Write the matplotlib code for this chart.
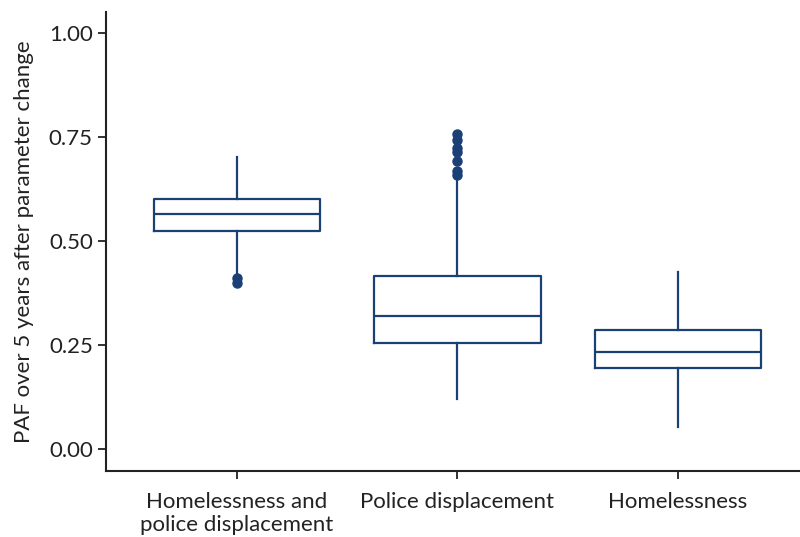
import matplotlib
matplotlib.use('Agg')
from matplotlib import pyplot as plt

plt.rcParams['font.family'] = ['Lato', 'DejaVu Sans']

categories = ['Homelessness and\npolice displacement', 'Police displacement', 'Homelessness']
q1 = [0.524, 0.255, 0.195]
med = [0.565, 0.320, 0.233]
q3 = [0.601, 0.416, 0.286]
whislo = [0.418, 0.120, 0.053]
whishi = [0.702, 0.652, 0.425]
fliers = [
    [0.411, 0.398],
    [0.757, 0.743, 0.724, 0.714, 0.692, 0.667, 0.658],
    [],
]

color = '#1b4075'

stats = []
for i, name in enumerate(categories):
    stats.append(dict(label=name, q1=q1[i], med=med[i], q3=q3[i],
                      whislo=whislo[i], whishi=whishi[i], fliers=fliers[i]))

fig = plt.figure(figsize=(8, 5.37), dpi=100)
ax = fig.add_axes([0.1325, 0.123, 0.8675, 0.855])

ax.bxp(stats, positions=[1, 2, 3], widths=0.755, showcaps=False,
       boxprops=dict(color=color, linewidth=1.6),
       medianprops=dict(color=color, linewidth=1.6),
       whiskerprops=dict(color=color, linewidth=1.6),
       flierprops=dict(marker='o', markerfacecolor=color, markeredgecolor=color,
                       markersize=6.5))

ax.set_xlim(0.405, 3.555)
ax.set_ylim(-0.052, 1.05)
ax.set_yticks([0, 0.25, 0.5, 0.75, 1.0])
ax.set_yticklabels(['0.00', '0.25', '0.50', '0.75', '1.00'])
ax.set_ylabel('PAF over 5 years after parameter change', fontsize=16, color='#222222',
              labelpad=11)
ax.tick_params(labelsize=16, colors='#222222', length=6, width=1.3)
ax.tick_params(axis='x', pad=9)
for s in ['top', 'right']:
    ax.spines[s].set_visible(False)
for s in ['left', 'bottom']:
    ax.spines[s].set_linewidth(1.5)
    ax.spines[s].set_color('#222222')

fig.savefig('out.png', dpi=100)
